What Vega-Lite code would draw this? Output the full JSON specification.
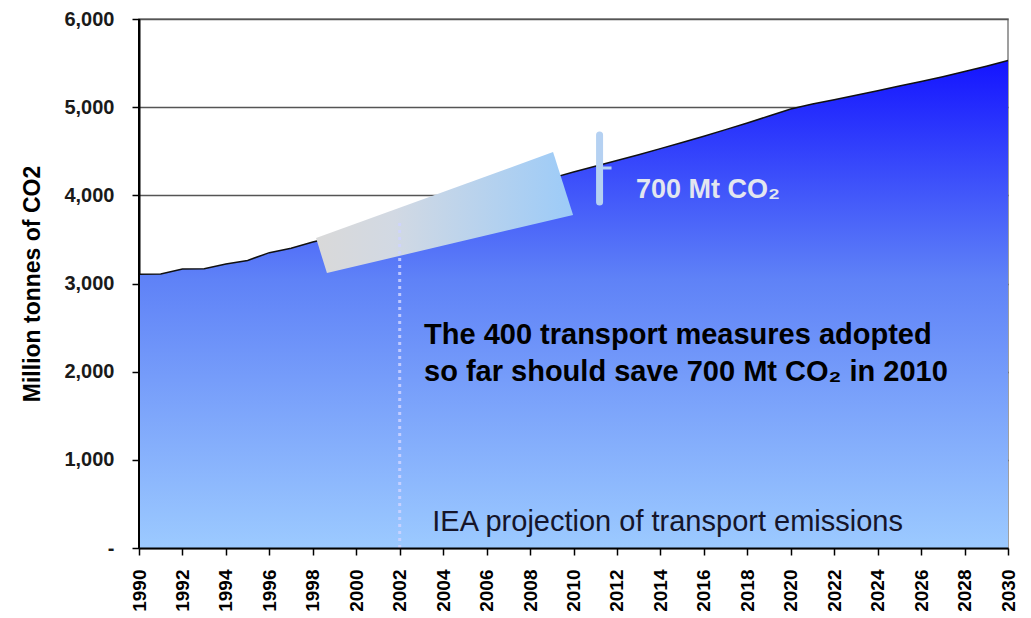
{
  "$schema": "https://vega.github.io/schema/vega-lite/v6.json",
  "width": 869,
  "height": 529,
  "autosize": {"type": "none"},
  "padding": {"left": 139, "top": 19, "right": 23, "bottom": 70},
  "background": "white",
  "config": {"view": {"stroke": "#808080", "strokeWidth": 1.5}, "font": "Liberation Sans"},
  "layer": [
    {
      "data": {"values": [
        {"year": 1990, "value": 3105}, {"year": 1991, "value": 3108}, {"year": 1992, "value": 3165},
        {"year": 1993, "value": 3168}, {"year": 1994, "value": 3220}, {"year": 1995, "value": 3262},
        {"year": 1996, "value": 3350}, {"year": 1997, "value": 3400}, {"year": 1998, "value": 3470},
        {"year": 1999, "value": 3530}, {"year": 2000, "value": 3600}, {"year": 2001, "value": 3660},
        {"year": 2002, "value": 3725}, {"year": 2003, "value": 3790}, {"year": 2004, "value": 3855},
        {"year": 2005, "value": 3920}, {"year": 2006, "value": 3990}, {"year": 2007, "value": 4060},
        {"year": 2008, "value": 4130}, {"year": 2009, "value": 4195}, {"year": 2010, "value": 4265},
        {"year": 2011, "value": 4330}, {"year": 2012, "value": 4395}, {"year": 2013, "value": 4460},
        {"year": 2014, "value": 4530}, {"year": 2015, "value": 4600}, {"year": 2016, "value": 4670},
        {"year": 2017, "value": 4745}, {"year": 2018, "value": 4820}, {"year": 2019, "value": 4900},
        {"year": 2020, "value": 4980}, {"year": 2021, "value": 5035}, {"year": 2022, "value": 5085},
        {"year": 2023, "value": 5135}, {"year": 2024, "value": 5185}, {"year": 2025, "value": 5240},
        {"year": 2026, "value": 5290}, {"year": 2027, "value": 5345}, {"year": 2028, "value": 5405},
        {"year": 2029, "value": 5465}, {"year": 2030, "value": 5530}
      ]},
      "layer": [
        {
          "mark": {
            "type": "area",
            "fill": {
              "gradient": "linear", "x1": 0, "y1": 0, "x2": 0, "y2": 1,
              "stops": [
                {"offset": 0, "color": "#1414ff"},
                {"offset": 0.45, "color": "#5f82f7"},
                {"offset": 1, "color": "#9ccaff"}
              ]
            }
          },
          "encoding": {
            "x": {
              "field": "year", "type": "quantitative",
              "scale": {"domain": [1990, 2030], "nice": false, "zero": false},
              "axis": {
                "values": [1990,1991,1992,1993,1994,1995,1996,1997,1998,1999,2000,2001,2002,2003,2004,2005,2006,2007,2008,2009,2010,2011,2012,2013,2014,2015,2016,2017,2018,2019,2020,2021,2022,2023,2024,2025,2026,2027,2028,2029,2030],
                "labelExpr": "datum.value % 2 == 0 ? '' + datum.value : ''",
                "labelAngle": -90,
                "labelFontSize": 19, "labelFontWeight": "bold", "labelColor": "#000",
                "labelPadding": 14, "labelOverlap": false, "labelFlush": false,
                "tickSize": 7, "tickColor": "#000", "tickWidth": 1.5,
                "domainColor": "#000", "domainWidth": 2,
                "grid": false, "title": null, "zindex": 1
              }
            },
            "y": {
              "field": "value", "type": "quantitative",
              "scale": {"domain": [0, 6000], "nice": false},
              "axis": {
                "values": [0, 1000, 2000, 3000, 4000, 5000, 6000],
                "format": ",d",
                "labelExpr": "datum.value == 0 ? '-\u00a0\u00a0\u00a0\u00a0' : datum.label",
                "title": "Million tonnes of CO2",
                "titleFontSize": 23, "titleFontWeight": "bold", "titleColor": "#000", "titlePadding": 19,
                "labelFontSize": 20, "labelFontWeight": "bold", "labelColor": "#1a1a1a", "labelPadding": 18,
                "tickSize": 7, "tickColor": "#000", "tickWidth": 1.5,
                "domainColor": "#000", "domainWidth": 2,
                "grid": true, "gridColor": "#555", "gridWidth": 1.5, "zindex": 0
              }
            }
          }
        },
        {
          "mark": {"type": "line", "color": "#111", "strokeWidth": 1.5},
          "encoding": {
            "x": {"field": "year", "type": "quantitative"},
            "y": {"field": "value", "type": "quantitative"}
          }
        }
      ]
    },
    {
      "data": {"values": [{"year": 1990, "value": 0, "value2": 6000}]},
      "mark": {"type": "rule", "color": "#000", "strokeWidth": 2},
      "encoding": {
        "x": {"field": "year", "type": "quantitative"},
        "y": {"field": "value", "type": "quantitative"},
        "y2": {"field": "value2"}
      }
    },
    {
      "data": {"values": [
        {"i": 1, "year": 1998.15, "value": 3516},
        {"i": 2, "year": 2009.06, "value": 4491},
        {"i": 3, "year": 2009.98, "value": 3777},
        {"i": 4, "year": 1998.65, "value": 3119}
      ]},
      "mark": {
        "type": "line", "interpolate": "linear-closed", "strokeOpacity": 0,
        "fill": {
          "gradient": "linear", "x1": 0, "y1": 0, "x2": 1, "y2": 0,
          "stops": [
            {"offset": 0, "color": "#d9d9d9"},
            {"offset": 0.3, "color": "#d2d9e3"},
            {"offset": 1, "color": "#9ccbf8"}
          ]
        }
      },
      "encoding": {
        "x": {"field": "year", "type": "quantitative"},
        "y": {"field": "value", "type": "quantitative"},
        "order": {"field": "i", "type": "quantitative"}
      }
    },
    {
      "data": {"values": [{"year": 2002, "value": 0, "value2": 3700}]},
      "mark": {"type": "rule", "color": "#cfd3ff", "strokeWidth": 3, "strokeDash": [3, 4], "opacity": 0.85},
      "encoding": {
        "x": {"field": "year", "type": "quantitative"},
        "y": {"field": "value", "type": "quantitative"},
        "y2": {"field": "value2"}
      }
    },
    {
      "data": {"values": [{"year": 2011.2, "value": 3924, "value2": 4684}]},
      "mark": {"type": "rule", "color": "#b5d1f2", "strokeWidth": 7, "strokeCap": "round"},
      "encoding": {
        "x": {"field": "year", "type": "quantitative"},
        "y": {"field": "value", "type": "quantitative"},
        "y2": {"field": "value2"}
      }
    },
    {
      "data": {"values": [{"year": 2011.2, "year2": 2011.75, "value": 4310}]},
      "mark": {"type": "rule", "color": "#b5d1f2", "strokeWidth": 3},
      "encoding": {
        "x": {"field": "year", "type": "quantitative"},
        "x2": {"field": "year2"},
        "y": {"field": "value", "type": "quantitative"}
      }
    },
    {
      "data": {"values": [{"year": 2012.88, "value": 4060, "label": "700 Mt CO₂"}]},
      "mark": {"type": "text", "align": "left", "baseline": "middle", "fontSize": 27, "fontWeight": "bold", "color": "#e2e6ef"},
      "encoding": {
        "x": {"field": "year", "type": "quantitative"},
        "y": {"field": "value", "type": "quantitative"},
        "text": {"field": "label"}
      }
    },
    {
      "data": {"values": [
        {"year": 2003.12, "value": 2416, "label": "The 400 transport measures adopted"},
        {"year": 2003.12, "value": 1996, "label": "so far should save 700 Mt CO₂ in 2010"}
      ]},
      "mark": {"type": "text", "align": "left", "baseline": "middle", "fontSize": 29, "fontWeight": "bold", "color": "#000"},
      "encoding": {
        "x": {"field": "year", "type": "quantitative"},
        "y": {"field": "value", "type": "quantitative"},
        "text": {"field": "label"}
      }
    },
    {
      "data": {"values": [{"year": 2003.5, "value": 295, "label": "IEA projection of transport emissions"}]},
      "mark": {"type": "text", "align": "left", "baseline": "middle", "fontSize": 29, "color": "#15152a"},
      "encoding": {
        "x": {"field": "year", "type": "quantitative"},
        "y": {"field": "value", "type": "quantitative"},
        "text": {"field": "label"}
      }
    }
  ]
}
